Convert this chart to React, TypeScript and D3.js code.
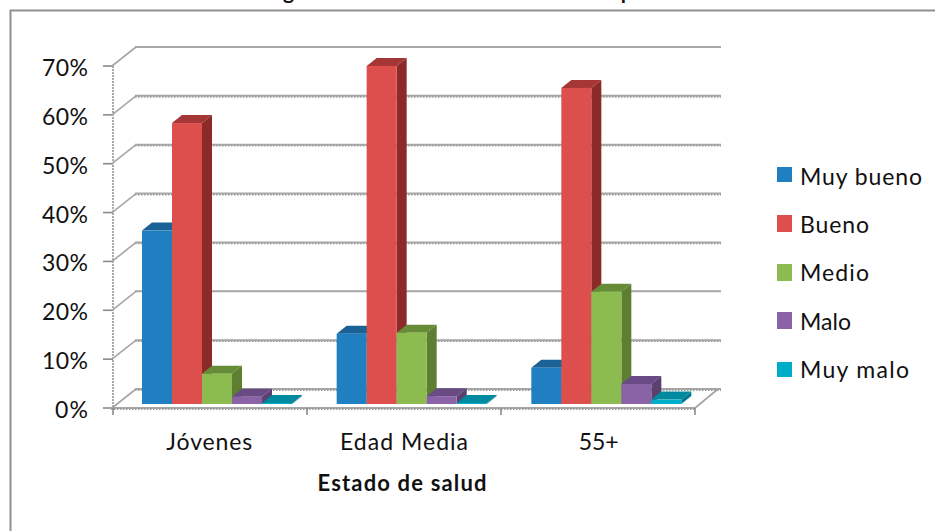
import React from "react";
import * as d3 from "d3";

const categories = ["Jóvenes", "Edad Media", "55+"];
const seriesNames = ["Muy bueno", "Bueno", "Medio", "Malo", "Muy malo"];
const muyBueno = [0.355, 0.144, 0.074];
const bueno = [0.575, 0.692, 0.647];
const medio = [0.062, 0.146, 0.23];
const malo = [0.015, 0.016, 0.041];
const muyMalo = [0.002, 0.002, 0.009];
const seriesValues = [muyBueno, bueno, medio, malo, muyMalo];
const yTicks = [0, 0.1, 0.2, 0.3, 0.4, 0.5, 0.6, 0.7];
const frontColors = ["#1f7fc1", "#dd4f4c", "#8cbb50", "#8a62a6", "#00adc8"];
const sideColors = ["#175c8c", "#8c2a2a", "#5e7e31", "#5a4170", "#00788f"];
const topColors = ["#1a6296", "#a53636", "#668c38", "#6a4a84", "#008a9f"];
const legendSwatchY = [167, 215, 264, 312, 362];
const legendSwatchH = [15, 17, 17, 17, 15];
const legendBaseline = [185, 233, 281, 330, 378];
const legendWidths = [122, 69, 69, 51, 109];

const FONT = "Lato, Carlito, Calibri, sans-serif";
const GRID = "#a6a6a6";

// Front plane of the 3D plot box, and how far the back wall is pushed away from it.
const xAxis = d3.scaleBand<string>().domain(categories).range([113, 697]);
const yAxis = d3.scaleLinear().domain([0, 0.7]).range([408, 66]);
const WALL_DX = 23;
const WALL_DY = -19;

// Bars stand on the floor, part way between the front edge and the back wall.
const BAR_FLOOR_SHIFT = -4;
const BAR_DX = 10;
const BAR_DY = -8;
const barX = d3.scaleBand<number>().domain(d3.range(5)).range([29, 179]);

function JaggedLine({ x1, y1, x2, y2, texture }: { x1: number; y1: number; x2: number; y2: number; texture: boolean }) {
  return (
    <g>
      <line x1={x1} y1={y1} x2={x2} y2={y2} stroke={GRID} strokeWidth={2} />
      {texture && <line x1={x1} y1={y1 + 1.2} x2={x2} y2={y2 + 1.2} stroke="#999" strokeWidth={1.4} strokeDasharray="1.5 1.5" />}
    </g>
  );
}

function Bar({ x, value, s }: { x: number; value: number; s: number }) {
  const w = barX.bandwidth();
  const bottom = yAxis(0) + BAR_FLOOR_SHIFT;
  const top = yAxis(value) + BAR_FLOOR_SHIFT;
  const path = d3.path;
  const topFace = path();
  topFace.moveTo(x, top);
  topFace.lineTo(x + BAR_DX, top + BAR_DY);
  topFace.lineTo(x + w + BAR_DX, top + BAR_DY);
  topFace.lineTo(x + w, top);
  topFace.closePath();
  const sideFace = path();
  sideFace.moveTo(x + w, top);
  sideFace.lineTo(x + w + BAR_DX, top + BAR_DY);
  sideFace.lineTo(x + w + BAR_DX, bottom + BAR_DY);
  sideFace.lineTo(x + w, bottom);
  sideFace.closePath();
  return (
    <g>
      <path d={topFace.toString()} fill={topColors[s]} />
      <path d={sideFace.toString()} fill={sideColors[s]} />
      <rect x={x} y={top} width={w} height={bottom - top} fill={frontColors[s]} />
    </g>
  );
}

export default function App() {
  const x0 = 113;
  const x1 = 695;
  return (
    <svg width={935} height={531} style={{ position: "absolute", left: 0, top: 0, background: "#fff" }}>
      <text x={467} y={-1} textAnchor="middle" fontFamily={FONT} fontWeight={700} fontSize={21} textLength={412} fill="#111">
        Figura 1: Estado de salud en España
      </text>
      <path d="M10.5 531V10.5H935" fill="none" stroke="#8f8f8f" strokeWidth={2} />

      {/* back wall gridlines and their returns along the side wall */}
      {yTicks.map((t, i) => {
        const y = yAxis(t);
        return (
          <g key={t}>
            <JaggedLine x1={x0 + WALL_DX - 1} y1={y + WALL_DY} x2={721} y2={y + WALL_DY} texture={i !== 7 && i !== 2} />
            <line x1={x0 - 1} y1={y} x2={x0 + WALL_DX} y2={y + WALL_DY} stroke={GRID} strokeWidth={1.6} />
            <line x1={x0 - 10} y1={y} x2={x0} y2={y} stroke="#8a8a8a" strokeWidth={1.6} />
            <text x={88} y={y + 10} textAnchor="end" fontFamily={FONT} fontSize={23} textLength={t === 0 ? 33 : 46} fill="#111">
              {d3.format(".0%")(t)}
            </text>
          </g>
        );
      })}

      {/* side wall edge, floor front edge and category ticks */}
      <line x1={x0} y1={yAxis(0.7)} x2={x0} y2={yAxis(0)} stroke="#aaa" strokeWidth={2} strokeDasharray="2 1" />
      <JaggedLine x1={x0 - 2} y1={yAxis(0)} x2={x1} y2={yAxis(0)} texture />
      <line x1={x1} y1={yAxis(0)} x2={x1 + WALL_DX} y2={yAxis(0) + WALL_DY} stroke={GRID} strokeWidth={1.8} />
      {d3.range(4).map((i) => {
        const tx = x0 + (i * (x1 - x0)) / 3;
        return <line key={i} x1={tx} y1={yAxis(0)} x2={tx} y2={yAxis(0) + 7} stroke="#8a8a8a" strokeWidth={1.6} />;
      })}

      {/* bars, left to right so each front hides the side of its neighbour */}
      {categories.map((c, ci) =>
        seriesValues.map((vals, s) => (
          <Bar key={c + s} x={(xAxis(c) as number) + (barX(s) as number)} value={vals[ci]} s={s} />
        ))
      )}

      {categories.map((c, i) => (
        <text key={c} x={(xAxis(c) as number) + xAxis.bandwidth() / 2 - 1} y={450} textAnchor="middle" fontFamily={FONT} fontSize={23} textLength={[86, 128, 40][i]} fill="#111">
          {c}
        </text>
      ))}
      <text x={402} y={491} textAnchor="middle" fontFamily={FONT} fontWeight={700} fontSize={22} textLength={169} fill="#111">
        Estado de salud
      </text>

      {seriesNames.map((n, i) => (
        <g key={n}>
          <rect x={777} y={legendSwatchY[i]} width={15} height={legendSwatchH[i]} fill={frontColors[i]} />
          <text x={800} y={legendBaseline[i]} fontFamily={FONT} fontSize={23} textLength={legendWidths[i]} fill="#111">
            {n}
          </text>
        </g>
      ))}
    </svg>
  );
}
